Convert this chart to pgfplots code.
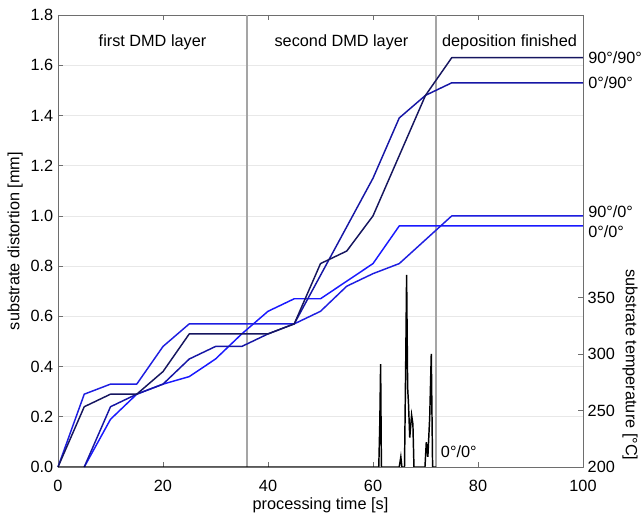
\documentclass[border=0pt]{standalone}
\usepackage{fontspec}
\setmainfont{Liberation Sans}
\usepackage{pgfplots}
\pgfplotsset{compat=1.18}
\usepackage{pgfplotstable}

\definecolor{c9090}{RGB}{22,22,95}
\definecolor{c090}{RGB}{22,22,165}
\definecolor{c900}{RGB}{30,30,225}
\definecolor{c00}{RGB}{25,25,255}
\definecolor{axgray}{RGB}{110,110,110}
\definecolor{sepgray}{RGB}{165,165,165}

% distortion [mm] over processing time [s]
\pgfplotstableread{
t    d
0    0
5    0.24
10   0.29
15   0.29
20   0.38
25   0.53
40   0.53
45   0.57
50   0.81
55   0.86
60   1.00
65   1.24
70   1.48
75   1.63
100  1.63
}\tNinetyNinety
\pgfplotstableread{
t    d
5    0
10   0.24
15   0.29
20   0.33
25   0.43
30   0.48
35   0.48
40   0.53
45   0.57
60   1.15
65   1.39
70   1.48
75   1.53
100  1.53
}\tZeroNinety
\pgfplotstableread{
t    d
0    0
5    0.29
10   0.33
15   0.33
20   0.48
25   0.57
45   0.57
50   0.62
55   0.72
60   0.77
65   0.81
75   1.00
100  1.00
}\tNinetyZero
\pgfplotstableread{
t    d
5    0
10   0.19
15   0.29
20   0.33
25   0.36
30   0.43
35   0.53
40   0.62
45   0.67
50   0.67
55   0.74
60   0.81
65   0.96
100  0.96
}\tZeroZero
% substrate temperature [C]
\pgfplotstableread{
t     T
0     200
61.1  200
61.3  240
61.45 291
61.6  200
65.0  200
65.3  209
65.5  200
66.0  200
66.25 300
66.4  370
66.6  270
66.75 257
67.0  226
67.35 246
67.6  238
67.8  200
69.9  200
70.15 222
70.45 209
70.8  244
71.1  300
71.35 200
72    200
}\tTemp

\pgfplotsset{
  base/.style={
    width=393.75pt, height=339pt, scale only axis,
    xmin=0, xmax=100,
    tick align=inside,
    major tick length=4pt,
    axis line style={axgray, line width=0.6pt},
    every tick/.style={axgray, line width=0.5pt},
    tick label style={font=\fontsize{12.2}{14}\selectfont},
    label style={font=\fontsize{12.2}{14}\selectfont},
    /pgf/number format/assume math mode=true,
  },
}

\begin{document}
\begin{tikzpicture}
\begin{axis}[base,
  ymin=0, ymax=1.8,
  xtick={0,20,...,100},
  ytick={0,0.2,...,1.8},
  xtick pos=both, ytick pos=left,
  yticklabel style={/pgf/number format/.cd, fixed, fixed zerofill, precision=1},
  xticklabel style={yshift=-6pt},
  ymajorgrids,
  grid style={black!9, line width=0.5pt},
  xlabel={processing time [s]},
  ylabel={substrate distortion [mm]},
  xlabel style={yshift=2pt},
  ylabel style={yshift=-1pt},
  clip=false,
  line join=round,
]
\coordinate (SW) at (rel axis cs:0,0);
\draw[sepgray, line width=1pt] (axis cs:36,0) -- (axis cs:36,1.8);
\draw[sepgray, line width=1pt] (axis cs:72,0) -- (axis cs:72,1.8);
\addplot[c00, line width=1.1pt] table[x=t, y=d] {\tZeroZero};
\addplot[c900, line width=1.1pt] table[x=t, y=d] {\tNinetyZero};
\addplot[c090, line width=1.1pt] table[x=t, y=d] {\tZeroNinety};
\addplot[c9090, line width=1.1pt] table[x=t, y=d] {\tNinetyNinety};
\begin{scope}[font=\fontsize{12.2}{14}\selectfont]
\node at (axis cs:18,1.693) {first DMD layer};
\node at (axis cs:54,1.693) {second DMD layer};
\node at (axis cs:86,1.693) {deposition finished};
\node[anchor=west, inner sep=0pt, xshift=3.75pt] at (axis cs:100,1.63) {90°/90°};
\node[anchor=west, inner sep=0pt, xshift=3.75pt] at (axis cs:100,1.53) {0°/90°};
\node[anchor=west, inner sep=0pt, xshift=3.75pt] at (axis cs:100,1.016) {90°/0°};
\node[anchor=west, inner sep=0pt, xshift=3.75pt] at (axis cs:100,0.936) {0°/0°};
\node[anchor=west, inner sep=0pt] at (axis cs:72.9,0.06) {0°/0°};
\end{scope}
\end{axis}
\begin{axis}[base,
  axis x line=none, axis y line*=right,
  ymin=200, ymax=600,
  ytick={200,250,300,350},
  ylabel={substrate temperature [°C]},
  ylabel style={at={(axis description cs:1.0895,0.226)}, rotate=180, anchor=center},
]
\addplot[black, line width=1.1pt] table[x=t, y=T] {\tTemp};
\end{axis}
\pgfresetboundingbox
\path[use as bounding box] ([shift={(-43.5pt,-39.75pt)}]SW) rectangle ++(480.75pt,390pt);
\end{tikzpicture}
\end{document}
